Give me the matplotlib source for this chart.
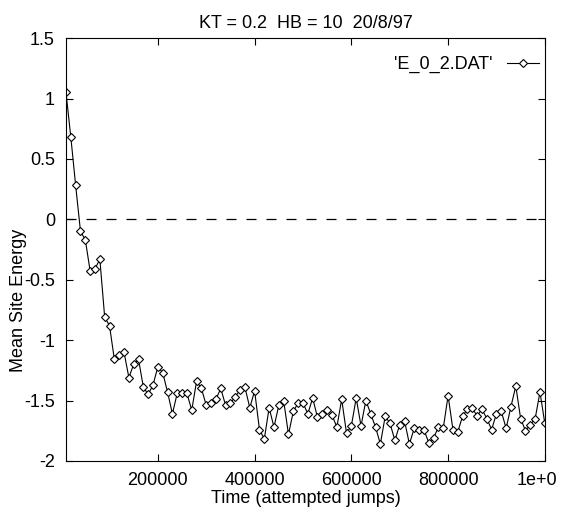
import numpy as np
import matplotlib
matplotlib.use("Agg")
from matplotlib import pyplot as plt
from matplotlib.transforms import ScaledTranslation

plt.rcParams['font.family'] = ['Liberation Sans', 'DejaVu Sans']

# time in attempted jumps, one sample every 10000
time_jumps = np.arange(1, 101) * 10000

energy = [
    1.05, 0.68, 0.28, -0.10, -0.17, -0.43, -0.41, -0.33, -0.81, -0.88,
    -1.16, -1.12, -1.10, -1.31, -1.20, -1.16, -1.39, -1.45, -1.37, -1.22,
    -1.27, -1.43, -1.61, -1.44, -1.44, -1.44, -1.58, -1.34, -1.40, -1.54,
    -1.52, -1.49, -1.40, -1.54, -1.52, -1.47, -1.41, -1.39, -1.56, -1.42,
    -1.74, -1.82, -1.56, -1.72, -1.54, -1.50, -1.78, -1.59, -1.52, -1.52,
    -1.61, -1.48, -1.64, -1.61, -1.58, -1.62, -1.72, -1.49, -1.77, -1.71,
    -1.48, -1.71, -1.50, -1.61, -1.72, -1.86, -1.63, -1.69, -1.83, -1.70,
    -1.67, -1.86, -1.73, -1.74, -1.74, -1.85, -1.81, -1.72, -1.73, -1.46,
    -1.74, -1.76, -1.63, -1.57, -1.56, -1.63, -1.57, -1.65, -1.74, -1.61,
    -1.59, -1.73, -1.55, -1.38, -1.65, -1.75, -1.70, -1.65, -1.43, -1.69,
]

x_ticks = [200000, 400000, 600000, 800000, 1000000]
x_tick_labels = ['200000', '400000', '600000', '800000', '1e+0']
y_ticks = [-2, -1.5, -1, -0.5, 0, 0.5, 1, 1.5]
y_tick_labels = ['-2', '-1.5', '-1', '-0.5', '0', '0.5', '1', '1.5']

fig = plt.figure(figsize=(5.64, 5.15), dpi=100)
ax = fig.add_axes([0.117, 0.105, 0.849, 0.821])

ax.axhline(0, color='black', lw=0.9, ls=(0, (8, 8)))
ax.plot(time_jumps, energy, color='black', lw=0.8, marker='D', ms=3.8,
        mfc='white', mec='black', mew=0.8, label="'E_0_2.DAT'")

ax.set_xlim(10000, 1000000)
ax.set_ylim(-2, 1.5)
ax.set_xticks(x_ticks)
ax.set_xticklabels(x_tick_labels)
ax.set_yticks(y_ticks)
ax.set_yticklabels(y_tick_labels)
ax.tick_params(direction='in', length=5, width=0.8, labelsize=13,
               top=True, right=True, pad=8)

# last label is cut short in the original, shift it a little left
lab = ax.get_xticklabels()[-1]
lab.set_transform(lab.get_transform() + ScaledTranslation(-0.08, 0, fig.dpi_scale_trans))

for s in ax.spines.values():
    s.set_linewidth(0.8)

ax.set_xlabel("Time (attempted jumps)", fontsize=13, labelpad=1)
ax.set_ylabel("Mean Site Energy", fontsize=13)
ax.yaxis.set_label_coords(-0.082, 0.38)
ax.set_title("KT = 0.2  HB = 10  20/8/97", fontsize=13, pad=7)

ax.legend(loc='upper right', bbox_to_anchor=(1.0, 0.97), frameon=False,
          markerfirst=False, fontsize=13, handlelength=1.8,
          borderaxespad=0, borderpad=0.3)

plt.savefig("out.png", dpi=100)
plt.close()
